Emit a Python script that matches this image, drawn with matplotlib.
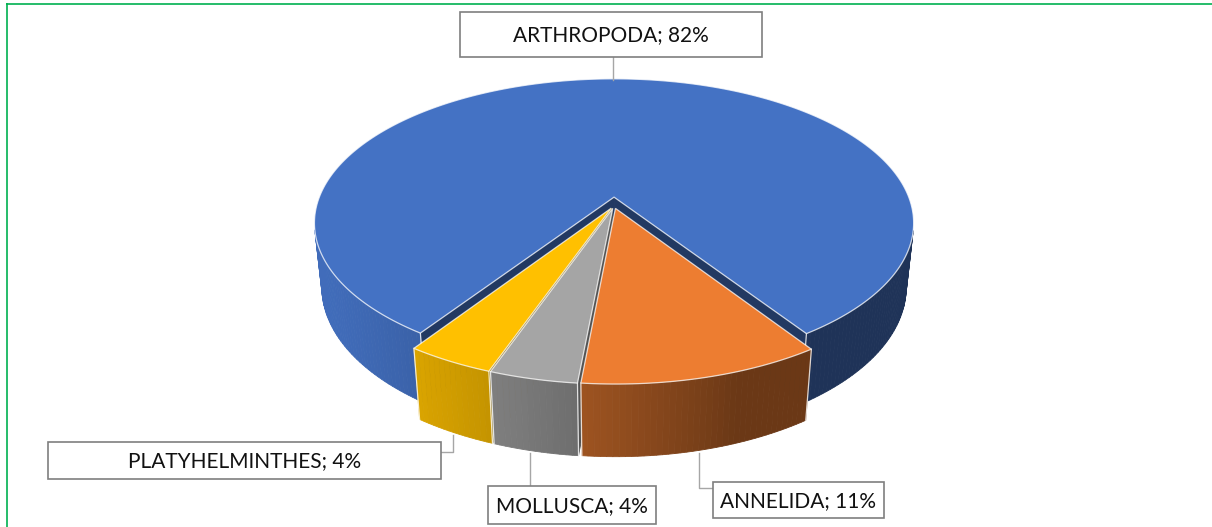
import numpy as np
import matplotlib.pyplot as plt
from matplotlib.patches import Polygon, Rectangle
from matplotlib.colors import to_rgb

# share of each phylum in the sample, percent as printed on the labels
phyla = ["ARTHROPODA", "ANNELIDA", "MOLLUSCA", "PLATYHELMINTHES"]
shares = [82, 11, 4, 4]
colors = ["#4472C4", "#ED7D31", "#A5A5A5", "#FFC000"]
explode = [0.06, 0.02, 0.02, 0.02]

# perspective camera for the 3-D pie (pixel space)
TILT = np.radians(28.6)
DIST = 4.83
FOCAL = 1439.0
CX, CY = 614.0, 205.6
DEPTH = 0.25
START = 236.0          # first slice edge, slices run clockwise
LIGHT = np.radians(200)

S, C = np.sin(TILT), np.cos(TILT)
CAM = np.array([0.0, -DIST * C, DIST * S])


def project(x, y, z):
    yc = y * S + z * C
    zc = DIST + y * C - z * S
    return CX + FOCAL * x / zc, CY - FOCAL * yc / zc, zc


def shade(rgb, ang):
    k = 0.45 + 0.5 * max(0.0, np.cos(ang - LIGHT))
    return tuple(np.clip(np.array(rgb) * k, 0, 1))


def facing(point, normal):
    return np.dot(CAM - point, normal) > 0


fig = plt.figure(figsize=(12.12, 5.27), dpi=100)
ax = fig.add_axes([0, 0, 1, 1])
ax.set_xlim(0, 1212)
ax.set_ylim(527, 0)
ax.axis("off")

fracs = np.array(shares, dtype=float) / sum(shares)
edges = np.radians(START - 360 * np.concatenate([[0], np.cumsum(fracs)]))

walls = []
tops = []
for i, col in enumerate(colors):
    rgb = to_rgb(col)
    a0, a1 = edges[i], edges[i + 1]
    mid = 0.5 * (a0 + a1)
    ox, oy = explode[i] * np.cos(mid), explode[i] * np.sin(mid)
    n = max(int(abs(np.degrees(a0 - a1))), 4)
    angs = np.linspace(a0, a1, n + 1)

    # top face
    apex = project(ox, oy, 0)
    rim = [project(ox + np.cos(a), oy + np.sin(a), 0) for a in angs]
    tops.append((apex[2], [apex[:2]] + [p[:2] for p in rim], rgb))

    # outer curved wall, split so each strip gets its own shading
    for j in range(n):
        am = 0.5 * (angs[j] + angs[j + 1])
        nrm = np.array([np.cos(am), np.sin(am), 0])
        pt = np.array([ox + np.cos(am), oy + np.sin(am), -DEPTH / 2])
        if not facing(pt, nrm):
            continue
        q = [project(ox + np.cos(angs[j]), oy + np.sin(angs[j]), 0),
             project(ox + np.cos(angs[j + 1]), oy + np.sin(angs[j + 1]), 0),
             project(ox + np.cos(angs[j + 1]), oy + np.sin(angs[j + 1]), -DEPTH),
             project(ox + np.cos(angs[j]), oy + np.sin(angs[j]), -DEPTH)]
        depth = np.mean([p[2] for p in q])
        walls.append((depth, [p[:2] for p in q], shade(rgb, am), "wall"))

    # flat cut faces at both ends of the slice
    for a, sign in ((a0, 1), (a1, -1)):
        nrm = sign * np.array([-np.sin(a), np.cos(a), 0])
        pt = np.array([ox + 0.5 * np.cos(a), oy + 0.5 * np.sin(a), -DEPTH / 2])
        if not facing(pt, nrm):
            continue
        q = [project(ox, oy, 0),
             project(ox + np.cos(a), oy + np.sin(a), 0),
             project(ox + np.cos(a), oy + np.sin(a), -DEPTH),
             project(ox, oy, -DEPTH)]
        depth = np.mean([p[2] for p in q])
        walls.append((depth, [p[:2] for p in q],
                      tuple(np.array(rgb) * 0.5), "cut"))

    # light vertical edge where the curved wall ends
    for a in (a0, a1):
        nrm = np.array([np.cos(a), np.sin(a), 0])
        pt = np.array([ox + np.cos(a), oy + np.sin(a), -DEPTH / 2])
        if facing(pt, nrm):
            p0 = project(ox + np.cos(a), oy + np.sin(a), 0)
            p1 = project(ox + np.cos(a), oy + np.sin(a), -DEPTH)
            walls.append((min(p0[2], p1[2]) - 0.01,
                          [p0[:2], p1[:2]], (1, 1, 1), "edge"))

for depth, pts, fc, kind in sorted(walls, key=lambda w: -w[0]):
    if kind == "edge":
        xs, ys = zip(*pts)
        ax.plot(xs, ys, color="white", lw=0.9, alpha=0.8, zorder=2)
    else:
        ax.add_patch(Polygon(pts, closed=True, facecolor=fc, edgecolor=fc,
                             lw=0.6, zorder=2))

for depth, pts, fc in sorted(tops, key=lambda t: -t[0]):
    ax.add_patch(Polygon(pts, closed=True, facecolor=fc,
                         edgecolor=(1, 1, 1, 0.75), lw=0.9, zorder=3))

# data labels with leader lines
boxes = [(460, 12, 302, 45), (713, 482, 171, 36),
         (488, 486, 168, 38), (48, 442, 393, 37)]
leaders = [[(613, 57), (613, 80)],
           [(713, 488), (699, 488), (699, 453)],
           [(530, 486), (530, 453)],
           [(441, 452), (453, 452), (453, 435)]]

for name, val, (bx, by, bw, bh), line in zip(phyla, shares, boxes, leaders):
    xs, ys = zip(*line)
    ax.plot(xs, ys, color="#A6A6A6", lw=1.0, zorder=4)
    ax.add_patch(Rectangle((bx, by), bw, bh, facecolor="white",
                           edgecolor="#7F7F7F", lw=1.2, zorder=5))
    ax.text(bx + bw / 2, by + bh / 2 + 1, f"{name}; {val}%", ha="center",
            va="center", fontsize=15, family=["Lato", "DejaVu Sans"],
            color="#111111", zorder=6)

# chart frame (only its top and left sides fall inside the image)
ax.plot([6, 1212], [3.5, 3.5], color="#00B050", lw=1.2, zorder=7,
        solid_capstyle="butt")
ax.plot([6.5, 6.5], [3, 527], color="#00B050", lw=1.2, zorder=7,
        solid_capstyle="butt")

fig.savefig("out.png", dpi=100)
